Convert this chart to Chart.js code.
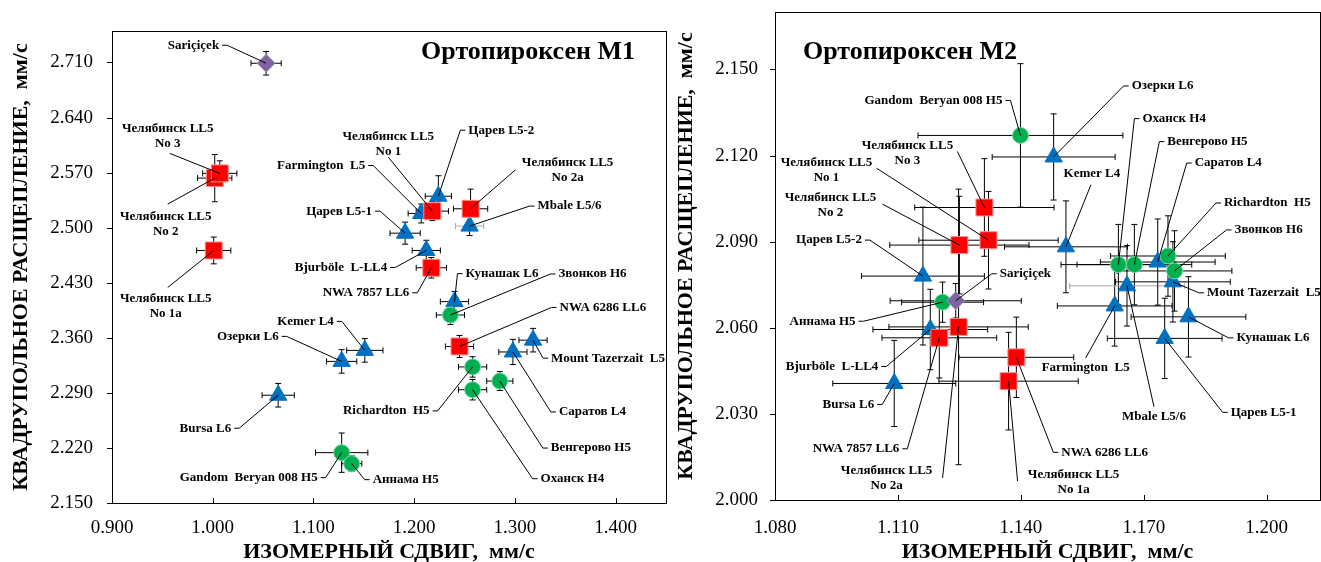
<!DOCTYPE html>
<html>
<head>
<meta charset="utf-8">
<script src="https://cdn.jsdelivr.net/npm/chart.js@4.4.1/dist/chart.umd.min.js"></script>
<style>
  html, body { margin: 0; padding: 0; background: #fff; }
  #left { position: absolute; left: 0; top: 0; width: 672px; height: 562px; }
  #right { position: absolute; left: 672px; top: 0; width: 649px; height: 562px; }
</style>
</head>
<body>
<div id="left"><canvas id="m1"></canvas></div>
<div id="right"><canvas id="m2"></canvas></div>
<script>
// meteorites, same order in every array below
const names = [
  'Челябинск LL5\nNo 1', 'Челябинск LL5\nNo 1a', 'Челябинск LL5\nNo 2', 'Челябинск LL5\nNo 2a',
  'Челябинск LL5\nNo 3', 'NWA 7857 LL6', 'NWA 6286 LL6',
  'Царев L5-1', 'Царев L5-2', 'Farmington  L5', 'Mbale L5/6', 'Bjurböle  L-LL4', 'Кунашак L6',
  'Mount Tazerzait  L5', 'Саратов L4', 'Kemer L4', 'Озерки L6', 'Bursa L6',
  'Звонков H6', 'Richardton  H5', 'Оханск H4', 'Венгерово H5', 'Gandom  Beryan 008 H5', 'Аннама H5',
  'Sariçiçek'
];
const groups = ['LL', 'LL', 'LL', 'LL', 'LL', 'LL', 'LL',
  'L', 'L', 'L', 'L', 'L', 'L', 'L', 'L', 'L', 'L', 'L',
  'H', 'H', 'H', 'H', 'H', 'H', 'X'];

// Ортопироксен M1: isomer shift, quadrupole splitting and their errors (mm/s)
const m1Shift = [1.218, 1.001, 1.002, 1.256, 1.007, 1.217, 1.245,
  1.191, 1.224, 1.207, 1.255, 1.212, 1.240, 1.318, 1.298, 1.151, 1.128, 1.065,
  1.236, 1.258, 1.258, 1.285, 1.128, 1.138, 1.053];
const m1Split = [2.521, 2.471, 2.563, 2.524, 2.569, 2.449, 2.349,
  2.493, 2.540, 2.518, 2.502, 2.471, 2.406, 2.357, 2.342, 2.344, 2.330, 2.287,
  2.389, 2.323, 2.294, 2.305, 2.214, 2.200, 2.709];
const m1ShiftErr = [0.016, 0.017, 0.017, 0.017, 0.017, 0.015, 0.014,
  0.015, 0.013, 0.013, 0.014, 0.014, 0.014, 0.014, 0.014, 0.018, 0.015, 0.016,
  0.014, 0.014, 0.014, 0.013, 0.026, 0.010, 0.015];
const m1SplitErr = [0.012, 0.017, 0.030, 0.025, 0.016, 0.013, 0.014,
  0.014, 0.026, 0.012, 0.012, 0.013, 0.013, 0.015, 0.016, 0.015, 0.015, 0.015,
  0.012, 0.013, 0.013, 0.012, 0.025, 0.010, 0.015];

// Ортопироксен M2
const m2Shift = [1.1321, 1.1370, 1.1250, 1.1248, 1.1311, 1.1201, 1.1389,
  1.1751, 1.1161, 1.1629, 1.1659, 1.1179, 1.1809, 1.1771, 1.1734, 1.1510, 1.1480, 1.1091,
  1.1775, 1.1759, 1.1638, 1.1677, 1.1399, 1.1209, 1.1241];
const m2Split = [2.0905, 2.0414, 2.0888, 2.0603, 2.1019, 2.0565, 2.0497,
  2.0563, 2.0780, 2.0676, 2.0746, 2.0594, 2.0638, 2.0760, 2.0829, 2.0882, 2.1195, 2.0406,
  2.0798, 2.0850, 2.0820, 2.0820, 2.1270, 2.0689, 2.0694];
const m2ShiftErr = [0.017, 0.017, 0.017, 0.017, 0.017, 0.014, 0.014,
  0.014, 0.015, 0.014, 0.014, 0.014, 0.014, 0.014, 0.014, 0.015, 0.015, 0.015,
  0.014, 0.014, 0.014, 0.014, 0.025, 0.010, 0.016];
const m2SplitErr = [0.017, 0.017, 0.017, 0.048, 0.017, 0.014, 0.014,
  0.014, 0.024, 0.014, 0.014, 0.014, 0.014, 0.014, 0.015, 0.016, 0.015, 0.015,
  0.014, 0.014, 0.014, 0.014, 0.025, 0.007, 0.006];

// tick labels
const m1ShiftTicks = [0.9, 1.0, 1.1, 1.2, 1.3, 1.4];
const m1SplitTicks = [2.15, 2.22, 2.29, 2.36, 2.43, 2.50, 2.57, 2.64, 2.71];
const m2ShiftTicks = [1.08, 1.11, 1.14, 1.17, 1.20];
const m2SplitTicks = [2.00, 2.03, 2.06, 2.09, 2.12, 2.15];

// label placement: pixel offset of text from its point, alignment, leader start offset
const m1Labels = [
  [-44, -75, 'center', -44, -54], [-48, 48, 'center', -46, 37], [-49, 39, 'center', -47, 26],
  [97, -46, 'center', 45, -39], [-52, -45, 'center', -50, -20], [-22, 25, 'right'], [100, -39, 'left'],
  [-33, -22, 'right'], [30, -66, 'left'], [-56, -48, 'right'], [68, -20, 'left'], [-39, 17, 'right'],
  [11, -28, 'left'], [18, 18, 'left'], [46, 60, 'left'], [-31, -29, 'right'], [-63, -25, 'right'],
  [-47, 33, 'right'], [108, -41, 'left'], [-43, 44, 'right'], [68, 89, 'left'], [51, 67, 'left'],
  [-24, 25, 'right'], [21, 16, 'left'], [-47, -18, 'right']
];
const m2Labels = [
  [-162, -78, 'center', -112, -72], [65, 93, 'center', 9, 100], [-129, -47, 'center', -77, -41],
  [-72, 144, 'center', -16, 151], [-77, -62, 'center', -27, -56], [-40, 111, 'right'], [45, 95, 'left'],
  [66, 74, 'left'], [-61, -36, 'right'], [-29, 62, 'center', -29, 52], [27, 131, 'center', 27, 121],
  [-52, 37, 'right'], [48, 21, 'left'], [34, 11, 'left'], [37, -99, 'left'], [26, -73, 'center', 25, -62],
  [78, -71, 'left'], [-20, 21, 'right'], [60, -41, 'left'], [56, -53, 'left'], [24, -146, 'left'],
  [33, -123, 'left'], [-18, -35, 'right'], [-87, 19, 'right'], [44, -27, 'left']
];

const serif = '"Liberation Serif", "Times New Roman", serif';
const looks = {
  X:  { shape: 'rectRot', r: 9, fill: '#8064A2', edge: '#A48FC0' },
  H:  { shape: 'circle', r: 8, fill: '#00B050', edge: '#7FD8A7' },
  LL: { shape: 'rect', r: 12, fill: '#FF0000', edge: '#FF8C8C' },
  L:  { shape: 'triangle', r: 10, fill: '#0070C0', edge: '#0070C0' }
};
const grayShiftErr = ['Mbale L5/6'];

function buildDatasets(xs, ys, dxs, dys) {
  // first dataset is drawn on top
  return ['X', 'H', 'LL', 'L'].map(g => ({
    label: g,
    data: names.map((n, i) => ({ x: xs[i], y: ys[i], dx: dxs[i], dy: dys[i], idx: i }))
      .filter(d => groups[d.idx] === g),
    pointStyle: looks[g].shape,
    pointRadius: looks[g].r,
    backgroundColor: looks[g].fill,
    borderColor: looks[g].edge,
    borderWidth: 1,
    showLine: false
  }));
}

function seg(ctx, x0, y0, x1, y1) {
  ctx.beginPath(); ctx.moveTo(x0, y0); ctx.lineTo(x1, y1); ctx.stroke();
}

const sketch = {
  id: 'sketch',
  beforeDatasetsDraw(chart) {
    const { ctx, scales: { x, y } } = chart;
    ctx.save();
    ctx.lineWidth = 1;
    chart.data.datasets.forEach(ds => ds.data.forEach(d => {
      const px = x.getPixelForValue(d.x), py = y.getPixelForValue(d.y);
      const xa = x.getPixelForValue(d.x - d.dx), xb = x.getPixelForValue(d.x + d.dx);
      const ya = y.getPixelForValue(d.y - d.dy), yb = y.getPixelForValue(d.y + d.dy);
      ctx.strokeStyle = grayShiftErr.includes(names[d.idx]) ? '#A6A6A6' : '#000';
      seg(ctx, xa, py, xb, py); seg(ctx, xa, py - 3, xa, py + 3); seg(ctx, xb, py - 3, xb, py + 3);
      ctx.strokeStyle = '#000';
      seg(ctx, px, ya, px, yb); seg(ctx, px - 3, ya, px + 3, ya); seg(ctx, px - 3, yb, px + 3, yb);
    }));
    ctx.restore();
  },
  afterDatasetsDraw(chart, args, opts) {
    const { ctx, chartArea: a, scales: { x, y } } = chart;
    ctx.save();
    // frame and tick marks
    ctx.strokeStyle = '#000'; ctx.lineWidth = 1;
    ctx.strokeRect(Math.round(a.left) + 0.5, Math.round(a.top) + 0.5,
      Math.round(a.right - a.left), Math.round(a.bottom - a.top));
    x.ticks.forEach(t => {
      const px = Math.round(x.getPixelForValue(t.value)) + 0.5;
      seg(ctx, px, a.bottom, px, a.bottom - 5);
    });
    y.ticks.forEach(t => {
      const py = Math.round(y.getPixelForValue(t.value)) + 0.5;
      seg(ctx, a.left - 5, py, a.left, py);
    });
    // point positions
    const pos = [];
    chart.data.datasets.forEach((ds, di) => {
      const meta = chart.getDatasetMeta(di);
      ds.data.forEach((d, j) => { pos[d.idx] = { x: meta.data[j].x, y: meta.data[j].y }; });
    });
    // labels with leader lines
    ctx.font = 'bold 13px ' + serif;
    ctx.fillStyle = '#000';
    ctx.textBaseline = 'middle';
    opts.labels.forEach((lab, i) => {
      const p = pos[i];
      const [dx, dy, align, lx, ly] = lab;
      const tx = p.x + dx, ty = p.y + dy;
      ctx.beginPath();
      if (align === 'left') { ctx.moveTo(tx - 3, ty); ctx.lineTo(tx - 8, ty); }
      else if (align === 'right') { ctx.moveTo(tx + 3, ty); ctx.lineTo(tx + 8, ty); }
      else { ctx.moveTo(p.x + lx, p.y + ly); }
      ctx.lineTo(p.x, p.y);
      ctx.stroke();
      ctx.textAlign = align;
      names[i].split('\n').forEach((t, k) => ctx.fillText(t, tx, ty + k * 15));
    });
    // panel title
    ctx.font = 'bold 26px ' + serif;
    ctx.textAlign = opts.titleAlign;
    const tx = opts.titleAlign === 'right' ? a.right + opts.titleDx : a.left + opts.titleDx;
    ctx.fillText(opts.title, tx, a.top + opts.titleDy);
    ctx.restore();
  }
};

function makeChart(id, cfg) {
  const tickFont = { family: serif, size: 19 };
  const titleFont = { family: serif, size: 22, weight: 'bold', lineHeight: 1.2 };
  return new Chart(document.getElementById(id), {
    type: 'scatter',
    data: { datasets: buildDatasets(cfg.xs, cfg.ys, cfg.dxs, cfg.dys) },
    plugins: [sketch],
    options: {
      responsive: true,
      maintainAspectRatio: false,
      animation: false,
      events: [],
      layout: { padding: cfg.padding, autoPadding: false },
      plugins: {
        legend: { display: false },
        tooltip: { enabled: false },
        sketch: { labels: cfg.labels, title: cfg.title, titleAlign: cfg.titleAlign, titleDx: cfg.titleDx, titleDy: cfg.titleDy }
      },
      scales: {
        x: {
          type: 'linear', min: cfg.xMin, max: cfg.xMax,
          afterBuildTicks: s => { s.ticks = cfg.xTicks.map(v => ({ value: v })); },
          afterFit: s => { s.height = cfg.xHeight; s.paddingLeft = 0; s.paddingRight = 0; },
          ticks: { font: tickFont, color: '#000', padding: cfg.xPad, maxRotation: 0, autoSkip: false,
            callback: v => v.toFixed(3) },
          grid: { display: false, drawTicks: false },
          border: { display: false },
          title: { display: true, text: 'ИЗОМЕРНЫЙ СДВИГ,  мм/с', color: '#000',
            font: { ...titleFont, lineHeight: 0.9 }, padding: { top: 0, bottom: 0 } }
        },
        y: {
          type: 'linear', min: cfg.yMin, max: cfg.yMax,
          afterBuildTicks: s => { s.ticks = cfg.yTicks.map(v => ({ value: v })); },
          afterFit: s => { s.width = cfg.yWidth; s.paddingTop = 0; s.paddingBottom = 0; },
          ticks: { font: tickFont, color: '#000', padding: cfg.yPad, autoSkip: false,
            callback: v => v.toFixed(3) },
          grid: { display: false, drawTicks: false },
          border: { display: false },
          title: { display: true, text: 'КВАДРУПОЛЬНОЕ РАСЩЕПЛЕНИЕ,  мм/с', color: '#000',
            font: titleFont, padding: { top: cfg.yTitlePad, bottom: 0 } }
        }
      }
    }
  });
}

makeChart('m1', {
  xs: m1Shift, ys: m1Split, dxs: m1ShiftErr, dys: m1SplitErr, labels: m1Labels,
  xMin: 0.9, xMax: 1.45, yMin: 2.15, yMax: 2.75, xTicks: m1ShiftTicks, yTicks: m1SplitTicks,
  padding: { top: 31, right: 6, left: 0, bottom: 0 }, xHeight: 59, yWidth: 112,
  xPad: 14, yPad: 19, yTitlePad: 8,
  title: 'Ортопироксен M1', titleAlign: 'right', titleDx: -31, titleDy: 21
});

makeChart('m2', {
  xs: m2Shift, ys: m2Split, dxs: m2ShiftErr, dys: m2SplitErr, labels: m2Labels,
  xMin: 1.08, xMax: 1.213, yMin: 2.0, yMax: 2.17, xTicks: m2ShiftTicks, yTicks: m2SplitTicks,
  padding: { top: 12, right: 1, left: 0, bottom: 0 }, xHeight: 62, yWidth: 103,
  xPad: 17, yPad: 17, yTitlePad: 1,
  title: 'Ортопироксен M2', titleAlign: 'left', titleDx: 28, titleDy: 40
});
</script>
</body>
</html>
